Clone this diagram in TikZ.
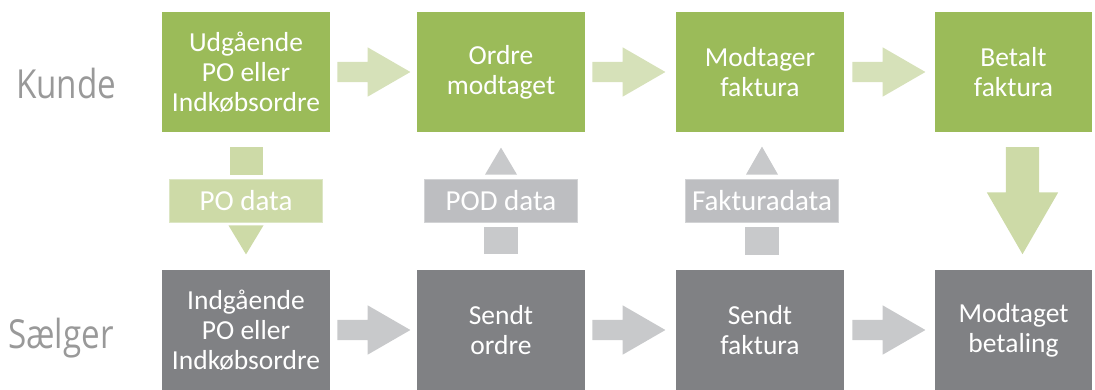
\documentclass[tikz,border=0pt]{standalone}
\usepackage{fontspec}
\setmainfont{Carlito}
\newfontfamily\lanefont[FakeStretch=0.83]{Open Sans}
\usetikzlibrary{shapes.arrows,calc}
\definecolor{gbox}{HTML}{9BBB59}
\definecolor{garrow}{HTML}{D6E1B9}
\definecolor{glabel}{HTML}{CDDAA7}
\definecolor{glabeledge}{HTML}{DCE6C4}
\definecolor{dbox}{HTML}{808184}
\definecolor{darrow}{HTML}{C8C9CB}
\definecolor{dlabel}{HTML}{BDBEC1}
\definecolor{dlabeledge}{HTML}{D2D3D5}
\definecolor{lane}{HTML}{999999}
\begin{document}
\begin{tikzpicture}[x=1pt,y=-1pt,
  box/.style={minimum width=168pt,minimum height=120pt,inner sep=0pt,align=center,text=white,font=\fontsize{27.5}{30}\selectfont},
  topbox/.style={box,fill=gbox},
  botbox/.style={box,fill=dbox},
  harrow/.style={single arrow,anchor=tail,minimum height=73pt,inner xsep=0pt,inner ysep=10pt,single arrow head extend=14.5pt,single arrow tip angle=60,draw=none},
  datalabel/.style={minimum width=153pt,minimum height=43pt,inner sep=0pt,text=white,font=\fontsize{29}{30}\selectfont,line width=0.8pt},
  greenlabel/.style={datalabel,fill=glabel,draw=glabeledge},
  graylabel/.style={datalabel,fill=dlabel,draw=dlabeledge},
  lanelabel/.style={anchor=base west,inner sep=0pt,text=lane,font=\lanefont\fontsize{40}{44}\selectfont}
]
\useasboundingbox (0,0) rectangle (1095,389);

% lane labels
\node[lanelabel] (kunde) at (16,98) {Kunde};
\node[lanelabel] (saelger) at (8,348) {Sælger};

% top row
\node[topbox] (t1) at (246,72) {Udgående\\PO eller\\Indkøbsordre};
\node[topbox] (t2) at (501,72) {Ordre\\modtaget};
\node[topbox] (t3) at (760,72) {Modtager\\faktura};
\node[topbox,minimum width=157pt] (t4) at (1013.5,72) {Betalt\\faktura};

% bottom row
\node[botbox] (b1) at (246,330) {Indgående\\PO eller\\Indkøbsordre};
\node[botbox] (b2) at (501,330) {Sendt\\ordre};
\node[botbox] (b3) at (760,330) {Sendt\\faktura};
\node[botbox,minimum width=157pt] (b4) at (1013.5,330) {Modtaget\\betaling};

% horizontal arrows
\node[harrow,fill=garrow] (ta1) at ($(t1.east)+(7,0)$) {};
\node[harrow,fill=garrow] (ta2) at ($(t2.east)+(7,0)$) {};
\node[harrow,fill=garrow] (ta3) at ($(t3.east)+(8,0)$) {};
\node[harrow,fill=darrow] (ba1) at ($(b1.east)+(7,0)$) {};
\node[harrow,fill=darrow] (ba2) at ($(b2.east)+(7,0)$) {};
\node[harrow,fill=darrow] (ba3) at ($(b3.east)+(8,0)$) {};

% PO data (down)
\node[greenlabel] (po) at (246,200.5) {PO data};
\fill[glabel] ($(po.north)+(-16.5,-32)$) rectangle ($(po.north)+(16.5,-4)$);
\fill[glabel] ($(po.south)+(-17.5,3)$) -- ($(po.south)+(17.5,3)$) -- ($(po.south)+(0,32)$) -- cycle;

% POD data (up)
\node[graylabel] (pod) at (501,200.5) {POD data};
\fill[darrow] ($(pod.north)+(-16,-4)$) -- ($(pod.north)+(16,-4)$) -- ($(pod.north)+(0,-31)$) -- cycle;
\fill[darrow] ($(pod.south)+(-17,5)$) rectangle ($(pod.south)+(17,32)$);

% Fakturadata (up)
\node[graylabel] (fd) at (762,200.5) {Fakturadata};
\fill[darrow] ($(fd.north)+(-16,-4)$) -- ($(fd.north)+(16,-4)$) -- ($(fd.north)+(0,-32)$) -- cycle;
\fill[darrow] ($(fd.south)+(-17,5)$) rectangle ($(fd.south)+(17,33)$);

% big down arrow
\node[single arrow,anchor=tail,rotate=-90,minimum height=107pt,inner xsep=0pt,inner ysep=16.5pt,single arrow head extend=19pt,single arrow tip angle=60,fill=glabel] (pay) at (1022.5,147) {};
\end{tikzpicture}
\end{document}
